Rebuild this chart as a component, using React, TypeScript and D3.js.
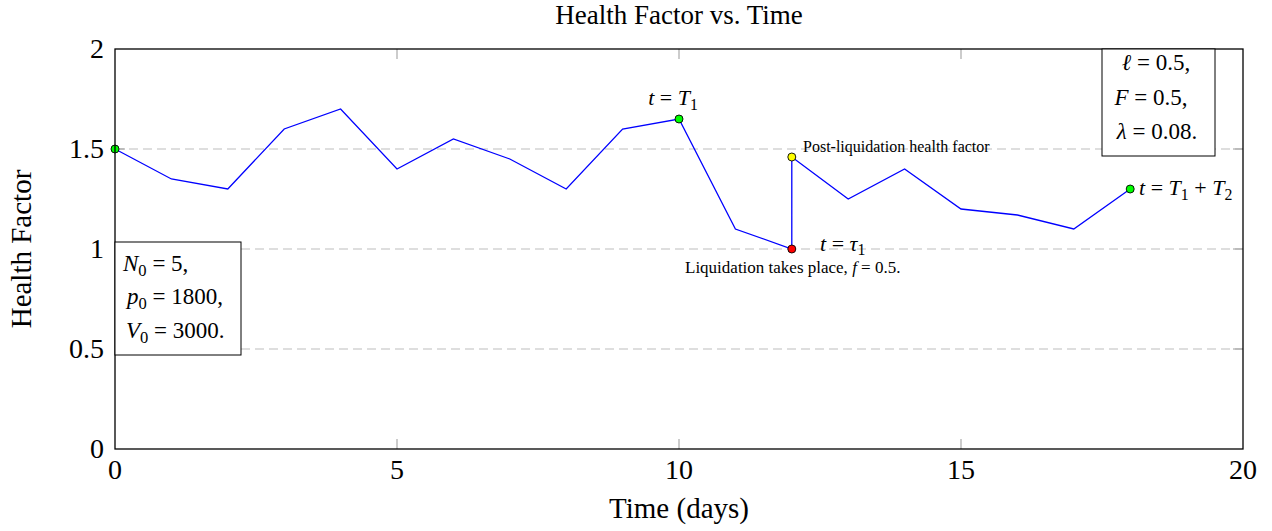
import React from "react";
import * as d3 from "d3";

const timeDays = [0, 1, 2, 3, 4, 5, 6, 7, 8, 9, 10, 11, 12, 12, 13, 14, 15, 16, 17, 18];
const healthFactor = [1.5, 1.35, 1.3, 1.6, 1.7, 1.4, 1.55, 1.45, 1.3, 1.6, 1.65, 1.1, 1.0, 1.46, 1.25, 1.4, 1.2, 1.17, 1.1, 1.3];

const markerTimes = [0, 10, 12, 12, 18];
const markerValues = [1.5, 1.65, 1.0, 1.46, 1.3];
const markerColors = ["#00ff00", "#00ff00", "#ff0000", "#ffff00", "#00ff00"];

const xTicks = [0, 5, 10, 15, 20];
const yTicks = [0, 0.5, 1, 1.5, 2];
const yGrid = [0.5, 1, 1.5];

const FONT = "'Liberation Serif', 'Times New Roman', serif";

type Part = [string, "i" | "r" | "s"];

function MathText({ x, y, size, anchor = "start", parts, shiftRatio = 0.22 }: { x: number; y: number; size: number; anchor?: string; parts: Part[]; shiftRatio?: number }) {
  const shift = size * shiftRatio;
  let prevSub = false;
  return (
    <text x={x} y={y} fontSize={size} textAnchor={anchor} fontFamily={FONT} fill="#000">
      {parts.map((p, i) => {
        const [txt, kind] = p;
        let dy = 0;
        if (kind === "s" && !prevSub) dy = shift;
        if (kind !== "s" && prevSub) dy = -shift;
        prevSub = kind === "s";
        return (
          <tspan
            key={i}
            dy={dy || undefined}
            fontStyle={kind === "i" ? "italic" : "normal"}
            fontSize={kind === "s" ? size * 0.72 : size}
          >
            {txt}
          </tspan>
        );
      })}
    </text>
  );
}

export default function App() {
  const W = 1272, H = 531;
  const x = d3.scaleLinear().domain([0, 20]).range([115, 1243]);
  const y = d3.scaleLinear().domain([0, 2]).range([449, 49]);
  const line = d3.line<number>().x((_, i) => x(timeDays[i])).y((d) => y(d));
  const pathD = line(healthFactor) || "";
  const [x0, x1] = x.range();
  const [yb, yt] = y.range();
  const tickLen = 10;

  return (
    <svg width={W} height={H} style={{ position: "absolute", left: 0, top: 0, background: "#fff" }}>
      {/* title */}
      <text x={(x0 + x1) / 2} y={24} textAnchor="middle" fontSize={27} fontFamily={FONT}>Health Factor vs. Time</text>

      {/* grid */}
      {yGrid.map((v) => (
        <line key={v} x1={x0} x2={x1} y1={y(v)} y2={y(v)} stroke="#bdbdbd" strokeWidth={1} strokeDasharray="9 5" />
      ))}

      {/* ticks */}
      {xTicks.filter((t) => t > 0 && t < 20).map((t) => (
        <g key={"xt" + t}>
          <line x1={x(t)} x2={x(t)} y1={yb} y2={yb - tickLen} stroke="#999" strokeWidth={1} />
          <line x1={x(t)} x2={x(t)} y1={yt} y2={yt + tickLen} stroke="#999" strokeWidth={1} />
        </g>
      ))}
      {yTicks.filter((t) => t > 0 && t < 2).map((t) => (
        <g key={"yt" + t}>
          <line x1={x0} x2={x0 + tickLen} y1={y(t)} y2={y(t)} stroke="#999" strokeWidth={1} />
          <line x1={x1} x2={x1 - tickLen} y1={y(t)} y2={y(t)} stroke="#999" strokeWidth={1} />
        </g>
      ))}

      {/* tick labels */}
      {xTicks.map((t) => (
        <text key={"xl" + t} x={x(t)} y={479} textAnchor="middle" fontSize={28} fontFamily={FONT}>{t}</text>
      ))}
      {yTicks.map((t) => (
        <text key={"yl" + t} x={104} y={y(t) + 9} textAnchor="end" fontSize={28} fontFamily={FONT}>{t}</text>
      ))}

      {/* axis labels */}
      <text x={(x0 + x1) / 2} y={518} textAnchor="middle" fontSize={29} fontFamily={FONT}>Time (days)</text>
      <text transform={`translate(31, ${(yb + yt) / 2}) rotate(-90)`} textAnchor="middle" fontSize={29} fontFamily={FONT}>Health Factor</text>

      {/* data line */}
      <path d={pathD} fill="none" stroke="#0000ff" strokeWidth={1.3} />

      {/* markers */}
      {markerTimes.map((t, i) => (
        <circle key={"m" + i} cx={x(t)} cy={y(markerValues[i])} r={4} fill={markerColors[i]} stroke="#000" strokeWidth={0.9} />
      ))}

      {/* frame */}
      <rect x={x0} y={yt} width={x1 - x0} height={yb - yt} fill="none" stroke="#000" strokeWidth={1.3} />

      {/* annotations */}
      <MathText x={x(10) - 6} y={105} size={22} anchor="middle" parts={[["t", "i"], [" = ", "r"], ["T", "i"], ["1", "s"]]} />
      <text x={803} y={152} fontSize={16} fontFamily={FONT}>Post-liquidation health factor</text>
      <MathText x={820} y={251} size={22} shiftRatio={0.16} parts={[["t", "i"], [" = ", "r"], ["τ", "i"], ["1", "s"]]} />
      <MathText x={685} y={273} size={17} parts={[["Liquidation takes place, ", "r"], ["f", "i"], [" = 0.5.", "r"]]} />
      <MathText x={1139} y={195} size={22} parts={[["t", "i"], [" = ", "r"], ["T", "i"], ["1", "s"], [" + ", "r"], ["T", "i"], ["2", "s"]]} />

      {/* parameter boxes */}
      <rect x={1102} y={yt} width={113} height={107} fill="#fff" stroke="#000" strokeWidth={1} />
      <MathText x={1156} y={70} size={23} anchor="middle" parts={[["ℓ", "i"], [" = 0.5,", "r"]]} />
      <MathText x={1151} y={105} size={23} anchor="middle" parts={[["F", "i"], [" = 0.5,", "r"]]} />
      <MathText x={1157} y={139} size={23} anchor="middle" parts={[["λ", "i"], [" = 0.08.", "r"]]} />

      <rect x={x0} y={242} width={126} height={113} fill="#fff" stroke="#000" strokeWidth={1} />
      <MathText x={123} y={271} size={23} parts={[["N", "i"], ["0", "s"], [" = 5,", "r"]]} />
      <MathText x={127} y={304} size={23} parts={[["p", "i"], ["0", "s"], [" = 1800,", "r"]]} />
      <MathText x={126} y={338} size={23} parts={[["V", "i"], ["0", "s"], [" = 3000.", "r"]]} />
    </svg>
  );
}
